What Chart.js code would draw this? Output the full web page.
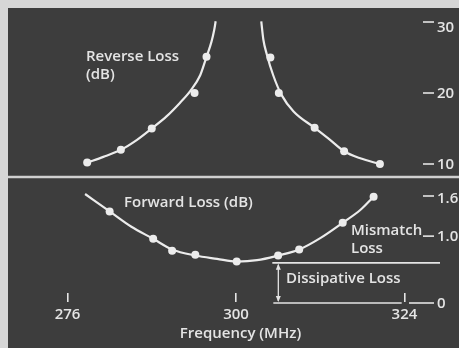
<!DOCTYPE html>
<html>
<head>
<meta charset="utf-8">
<script src="https://cdn.jsdelivr.net/npm/chart.js@4.4.1/dist/chart.umd.min.js"></script>
<style>
    body { margin: 0; background: #d6d6d6; }
    canvas { display: block; }
</style>
</head>
<body>
<canvas id="chart" width="459" height="348"></canvas>
<script>
// Reverse loss measurements (dB) on each side of the band centre
const freqReverse = [278.8, 283.6, 288.0, 294.1, 295.8, 304.9, 306.1, 311.2, 315.4, 320.5];
const reverseLoss = [10.2, 12.0, 15.0, 20.0, 25.1, 25.0, 20.0, 15.1, 11.8, 10.0];

// hand drawn trend for the reverse loss, low side and high side
const trendLowFreq = [278.8, 281.1, 283.6, 285.9, 288.0, 290.1, 292.0, 293.5, 294.9, 295.8, 296.5, 296.9, 297.1];
const trendLowLoss = [10.2, 11.0, 12.0, 13.4, 15.0, 16.7, 18.6, 20.3, 22.5, 25.1, 27.2, 28.9, 30.1];
const trendHighFreq = [303.6, 303.9, 304.4, 305.3, 306.5, 308.2, 311.2, 313.4, 315.4, 317.7, 320.5];
const trendHighLoss = [30.1, 27.5, 25.4, 22.5, 19.7, 17.4, 15.1, 13.4, 11.8, 10.8, 10.0];

// Forward loss measurements (dB)
const freqForward = [282.0, 288.2, 290.9, 294.2, 300.1, 306.0, 309.0, 315.2, 319.6];
const forwardLoss = [1.37, 0.96, 0.78, 0.72, 0.62, 0.71, 0.80, 1.20, 1.59];

const trendFwdFreq = [278.5, 282.0, 285.1, 288.2, 290.9, 294.2, 297.3, 300.1, 303.0, 306.0, 309.0, 312.0, 315.2, 317.7, 319.6];
const trendFwdLoss = [1.63, 1.37, 1.14, 0.96, 0.80, 0.71, 0.66, 0.62, 0.64, 0.71, 0.80, 0.97, 1.20, 1.39, 1.59];

// axis ticks
const freqTicks = [276, 300, 324];
const reverseTicks = [10, 20, 30];
const reverseTickLabels = ['10', '20', '30'];
const forwardTicks = [0, 1.0, 1.6];
const forwardTickLabels = ['0', '1.0', '1.6'];

// dissipative loss floor (dB) and where its bracket starts / ends (MHz)
const dissipativeLoss = 0.6;
const dissipativeFrom = 305.6;
const baselineTo = 323.6;

const FONT = '"Open Sans", sans-serif';
const INK = '#e4e4e4';

function pts(xs, ys) {
    return xs.map((x, i) => ({ x: x, y: ys[i] }));
}

const panelArt = {
    id: 'panelArt',
    beforeDraw(chart) {
        const ctx = chart.ctx;
        ctx.save();
        ctx.fillStyle = '#d6d6d6';
        ctx.fillRect(0, 0, chart.width, chart.height);
        ctx.fillStyle = '#3d3d3d';
        ctx.fillRect(8, 8, chart.width - 8, chart.height - 8);
        // line splitting the two panels
        ctx.strokeStyle = '#d0d0d0';
        ctx.lineWidth = 2.5;
        ctx.beginPath();
        ctx.moveTo(8, 177);
        ctx.lineTo(chart.width, 177);
        ctx.stroke();
        ctx.restore();
    },
    afterDraw(chart) {
        const ctx = chart.ctx;
        const x = chart.scales.x;
        const yRev = chart.scales.yRev;
        const yFwd = chart.scales.yFwd;

        ctx.save();
        ctx.strokeStyle = INK;
        ctx.fillStyle = INK;
        ctx.lineWidth = 1.6;

        // right hand ticks for both panels
        ctx.font = '600 15px ' + FONT;
        ctx.textBaseline = 'middle';
        ctx.textAlign = 'left';
        const drawTicks = (scale, values, labels) => {
            values.forEach((v, i) => {
                const py = scale.getPixelForValue(v);
                const from = v === 0 ? 409 : 423;
                // the top label hangs a little below its dash
                const drop = (i === values.length - 1) ? (scale === yRev ? 5 : 2) : 0;
                ctx.beginPath();
                ctx.moveTo(from, py);
                ctx.lineTo(434, py);
                ctx.stroke();
                ctx.fillText(labels[i], 437, py + 1 + drop);
            });
        };
        drawTicks(yRev, reverseTicks, reverseTickLabels);
        drawTicks(yFwd, forwardTicks, forwardTickLabels);

        // dissipative loss bracket
        const yd = yFwd.getPixelForValue(dissipativeLoss);
        const y0 = yFwd.getPixelForValue(0);
        const xa = x.getPixelForValue(dissipativeFrom);
        ctx.beginPath();
        ctx.moveTo(xa - 3, yd);
        ctx.lineTo(440, yd);
        ctx.moveTo(xa - 2, y0);
        ctx.lineTo(x.getPixelForValue(baselineTo), y0);
        ctx.stroke();

        const xv = xa + 3;
        ctx.lineWidth = 1.3;
        ctx.beginPath();
        ctx.moveTo(xv, yd + 2);
        ctx.lineTo(xv, y0 - 2);
        ctx.stroke();
        ctx.beginPath();
        ctx.moveTo(xv, yd + 1);
        ctx.lineTo(xv - 2.5, yd + 7);
        ctx.lineTo(xv + 2.5, yd + 7);
        ctx.closePath();
        ctx.moveTo(xv, y0 - 1);
        ctx.lineTo(xv - 2.5, y0 - 7);
        ctx.lineTo(xv + 2.5, y0 - 7);
        ctx.closePath();
        ctx.fill();

        // panel captions
        ctx.textBaseline = 'alphabetic';
        ctx.font = '600 15px ' + FONT;
        ctx.fillText('Reverse Loss', 86, 61);
        ctx.fillText('(dB)', 86, 79);
        ctx.fillText('Forward Loss (dB)', 124, 207);
        ctx.fillText('Mismatch', 351, 235);
        ctx.fillText('Loss', 351, 253);
        ctx.fillText('Dissipative Loss', 286, 283);

        // axis title, centred under the plotted band
        ctx.textAlign = 'center';
        ctx.fillText('Frequency (MHz)', 240.5, 338);
        ctx.restore();
    }
};

const dotStyle = {
    showLine: false,
    pointRadius: 4,
    pointBackgroundColor: '#ececec',
    pointBorderWidth: 0
};

const trendStyle = {
    borderColor: '#ececec',
    borderWidth: 2.2,
    pointRadius: 0,
    fill: false,
    cubicInterpolationMode: 'monotone'
};

new Chart(document.getElementById("chart"), {
    type: 'scatter',
    data: {
        datasets: [
            Object.assign({ label: 'Reverse loss (low side)', data: pts(trendLowFreq, trendLowLoss), yAxisID: 'yRev', showLine: true }, trendStyle),
            Object.assign({ label: 'Reverse loss (high side)', data: pts(trendHighFreq, trendHighLoss), yAxisID: 'yRev', showLine: true }, trendStyle),
            Object.assign({ label: 'Forward loss', data: pts(trendFwdFreq, trendFwdLoss), yAxisID: 'yFwd', showLine: true }, trendStyle),
            Object.assign({ label: 'Reverse loss measured', data: pts(freqReverse, reverseLoss), yAxisID: 'yRev' }, dotStyle),
            Object.assign({ label: 'Forward loss measured', data: pts(freqForward, forwardLoss), yAxisID: 'yFwd' }, dotStyle)
        ]
    },
    options: {
        responsive: false,
        animation: false,
        layout: { padding: { left: 8, top: 8, right: 35, bottom: 0 } },
        plugins: {
            legend: { display: false },
            tooltip: { enabled: false }
        },
        scales: {
            x: {
                type: 'linear',
                min: 267.52,
                max: 326.78,
                afterBuildTicks: (scale) => {
                    scale.ticks = freqTicks.map(v => ({ value: v }));
                },
                afterFit: (scale) => { scale.height = 55; },
                border: { display: false },
                grid: {
                    drawOnChartArea: false,
                    drawTicks: true,
                    tickLength: 9,
                    color: INK,
                    lineWidth: 1.6
                },
                ticks: {
                    color: INK,
                    padding: 4,
                    maxRotation: 0,
                    font: { family: FONT, size: 15, weight: '600' },
                    callback: (v) => String(v)
                }
            },
            yRev: {
                type: 'linear',
                display: false,
                min: -8.169,
                max: 31.972
            },
            yFwd: {
                type: 'linear',
                display: false,
                min: 0.1495,
                max: 4.4112
            }
        }
    },
    plugins: [panelArt]
});
</script>
</body>
</html>
